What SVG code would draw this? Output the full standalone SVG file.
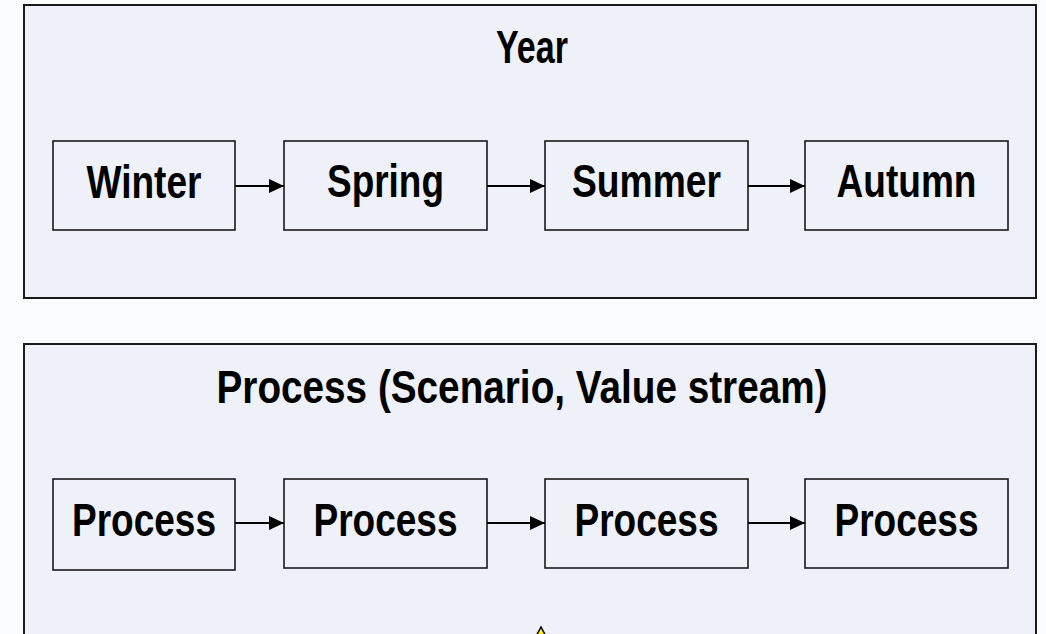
<svg xmlns="http://www.w3.org/2000/svg" width="1046" height="634" viewBox="0 0 1046 634">
<style>
.bg{fill:#fbfcfe}
.cont{fill:#eef1f8;stroke:#1a1a1a;stroke-width:2}
.node{fill:#eef1f8;stroke:#1a1a1a;stroke-width:1.6}
.lbl{font-family:"Liberation Sans",Arial,sans-serif;font-weight:bold;font-size:46px;fill:#000;text-anchor:middle}
.conn{stroke:#000;stroke-width:2.2;fill:none}
</style>
<defs>
<marker id="ah" markerWidth="15" markerHeight="14" refX="15" refY="7" orient="auto" markerUnits="userSpaceOnUse" viewBox="0 0 15 14">
<path d="M0,0 L15,7 L0,14 z" fill="#000"/>
</marker>
</defs>
<rect class="bg" x="0" y="0" width="1046" height="634"/>
<g id="year">
<rect class="cont" x="24" y="5" width="1012" height="293"/>
<text class="lbl" x="532" y="63" textLength="72" lengthAdjust="spacingAndGlyphs">Year</text>
</g>
<g id="process-container">
<rect class="cont" x="24" y="344" width="1012" height="310"/>
<text class="lbl" x="522" y="403" textLength="611" lengthAdjust="spacingAndGlyphs">Process (Scenario, Value stream)</text>
</g>
<g id="winter"><rect class="node" x="53" y="141" width="182" height="89"/><text class="lbl" x="144" y="198" textLength="115" lengthAdjust="spacingAndGlyphs">Winter</text></g>
<g id="spring"><rect class="node" x="284" y="141" width="203" height="89"/><text class="lbl" x="385.5" y="197" textLength="117" lengthAdjust="spacingAndGlyphs">Spring</text></g>
<g id="summer"><rect class="node" x="545" y="141" width="203" height="89"/><text class="lbl" x="646.5" y="197" textLength="149" lengthAdjust="spacingAndGlyphs">Summer</text></g>
<g id="autumn"><rect class="node" x="805" y="141" width="203" height="89"/><text class="lbl" x="906.5" y="197" textLength="140" lengthAdjust="spacingAndGlyphs">Autumn</text></g>
<g id="process1"><rect class="node" x="53" y="479" width="182" height="91"/><text class="lbl" x="144" y="536" textLength="144" lengthAdjust="spacingAndGlyphs">Process</text></g>
<g id="process2"><rect class="node" x="284" y="479" width="203" height="89"/><text class="lbl" x="385.5" y="536" textLength="144" lengthAdjust="spacingAndGlyphs">Process</text></g>
<g id="process3"><rect class="node" x="545" y="479" width="203" height="89"/><text class="lbl" x="646.5" y="536" textLength="144" lengthAdjust="spacingAndGlyphs">Process</text></g>
<g id="process4"><rect class="node" x="805" y="479" width="203" height="89"/><text class="lbl" x="906.5" y="536" textLength="144" lengthAdjust="spacingAndGlyphs">Process</text></g>
<g id="connectors">
<line class="conn" x1="235" y1="186" x2="284" y2="186" marker-end="url(#ah)"/>
<line class="conn" x1="487" y1="186" x2="545" y2="186" marker-end="url(#ah)"/>
<line class="conn" x1="748" y1="186" x2="805" y2="186" marker-end="url(#ah)"/>
<line class="conn" x1="235" y1="523" x2="284" y2="523" marker-end="url(#ah)"/>
<line class="conn" x1="487" y1="523" x2="545" y2="523" marker-end="url(#ah)"/>
<line class="conn" x1="748" y1="523" x2="805" y2="523" marker-end="url(#ah)"/>
</g>
<g id="marker-triangle">
<polygon points="541,627 534,640 548,640" fill="#ffee00" stroke="#000" stroke-width="1.5"/>
</g>
</svg>
